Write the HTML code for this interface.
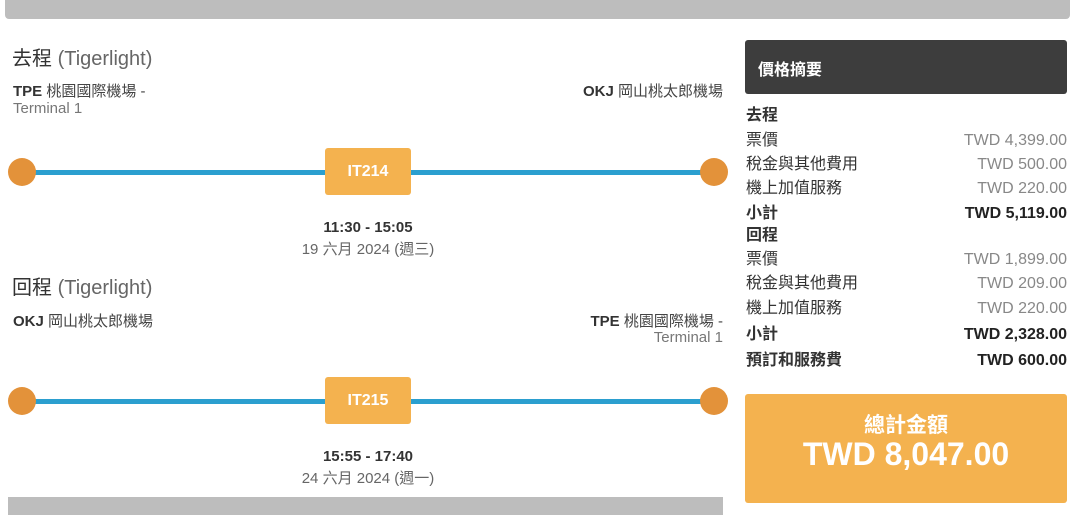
<!DOCTYPE html>
<html><head><meta charset="utf-8"><style>
body{margin:0;width:1080px;height:515px;background:#fff;position:relative;overflow:hidden;font-family:"Liberation Sans","Noto Sans CJK TC",sans-serif;color:#333}
.a{position:absolute;white-space:nowrap}
.bar{position:absolute;background:#bdbdbd}
.line{position:absolute;left:22px;width:692px;height:5px;background:#2b9fcf}
.dot{position:absolute;width:28px;height:28px;border-radius:50%;background:#e3923a}
.fl{position:absolute;left:325px;width:86px;height:47px;background:#f4b24f;border-radius:3px;color:#fff;font-weight:bold;font-size:16px;line-height:47px;text-align:center}
.t{font-size:20px;color:#333}
.t span{color:#666}
.ap{font-size:15px;font-weight:bold;color:#333}
.ap span{font-weight:normal;color:#777}
.term{font-size:15px;color:#777}
.time{font-size:15px;font-weight:bold;text-align:center;width:200px;left:268px}
.date{font-size:15px;color:#666;text-align:center;width:200px;left:268px}
.r{position:absolute;left:746px;width:321px;font-size:16px;height:22px;line-height:22px}
.r b{font-weight:bold}
.r .v{position:absolute;right:0;top:0;color:#888}
.r .vb{position:absolute;right:0;top:0;font-weight:bold;color:#222}
</style></head><body>
<div class="bar" style="left:5px;top:0;width:1065px;height:19px;border-radius:0 0 4px 4px"></div>
<div class="bar" style="left:8px;top:497px;width:715px;height:18px"></div>

<div class="a t" style="left:12px;top:42px">去程 <span>(Tigerlight)</span></div>
<div class="a ap" style="left:13px;top:80px">TPE <span style="color:#444">桃園國際機場 -</span></div>
<div class="a term" style="left:13px;top:100px">Terminal 1</div>
<div class="a ap" style="right:357px;top:80px">OKJ <span style="color:#444">岡山桃太郎機場</span></div>
<div class="line" style="top:170px"></div>
<div class="dot" style="left:8px;top:158px"></div>
<div class="dot" style="left:700px;top:158px"></div>
<div class="fl" style="top:148px">IT214</div>
<div class="a time" style="top:219px">11:30 - 15:05</div>
<div class="a date" style="top:238px">19 六月 2024 (週三)</div>

<div class="a t" style="left:12px;top:271px">回程 <span>(Tigerlight)</span></div>
<div class="a ap" style="left:13px;top:310px">OKJ <span style="color:#444">岡山桃太郎機場</span></div>
<div class="a ap" style="right:357px;top:310px">TPE <span style="color:#444">桃園國際機場 -</span></div>
<div class="a term" style="right:357px;top:329px">Terminal 1</div>
<div class="line" style="top:399px"></div>
<div class="dot" style="left:8px;top:387px"></div>
<div class="dot" style="left:700px;top:387px"></div>
<div class="fl" style="top:377px">IT215</div>
<div class="a time" style="top:448px">15:55 - 17:40</div>
<div class="a date" style="top:467px">24 六月 2024 (週一)</div>

<div class="a" style="left:745px;top:40px;width:322px;height:54px;background:#3d3d3d;border-radius:3px"></div>
<div class="a" style="left:758px;top:56px;color:#fff;font-weight:bold;font-size:16px">價格摘要</div>

<div class="r" style="top:105px"><b>去程</b></div>
<div class="r" style="top:130px">票價<span class="v">TWD 4,399.00</span></div>
<div class="r" style="top:154px">稅金與其他費用<span class="v">TWD 500.00</span></div>
<div class="r" style="top:178px">機上加值服務<span class="v">TWD 220.00</span></div>
<div class="r" style="top:203px"><b>小計</b><span class="vb">TWD 5,119.00</span></div>
<div class="r" style="top:225px"><b>回程</b></div>
<div class="r" style="top:249px">票價<span class="v">TWD 1,899.00</span></div>
<div class="r" style="top:273px">稅金與其他費用<span class="v">TWD 209.00</span></div>
<div class="r" style="top:298px">機上加值服務<span class="v">TWD 220.00</span></div>
<div class="r" style="top:324px"><b>小計</b><span class="vb">TWD 2,328.00</span></div>
<div class="r" style="top:350px"><b>預訂和服務費</b><span class="vb">TWD 600.00</span></div>

<div class="a" style="left:745px;top:394px;width:322px;height:109px;background:#f4b24f;border-radius:3px"></div>
<div class="a" style="left:745px;width:322px;top:409px;text-align:center;color:#fff;font-weight:bold;font-size:21px">總計金額</div>
<div class="a" style="left:745px;width:322px;top:436px;text-align:center;color:#fff;font-weight:bold;font-size:32px">TWD 8,047.00</div>
</body></html>
